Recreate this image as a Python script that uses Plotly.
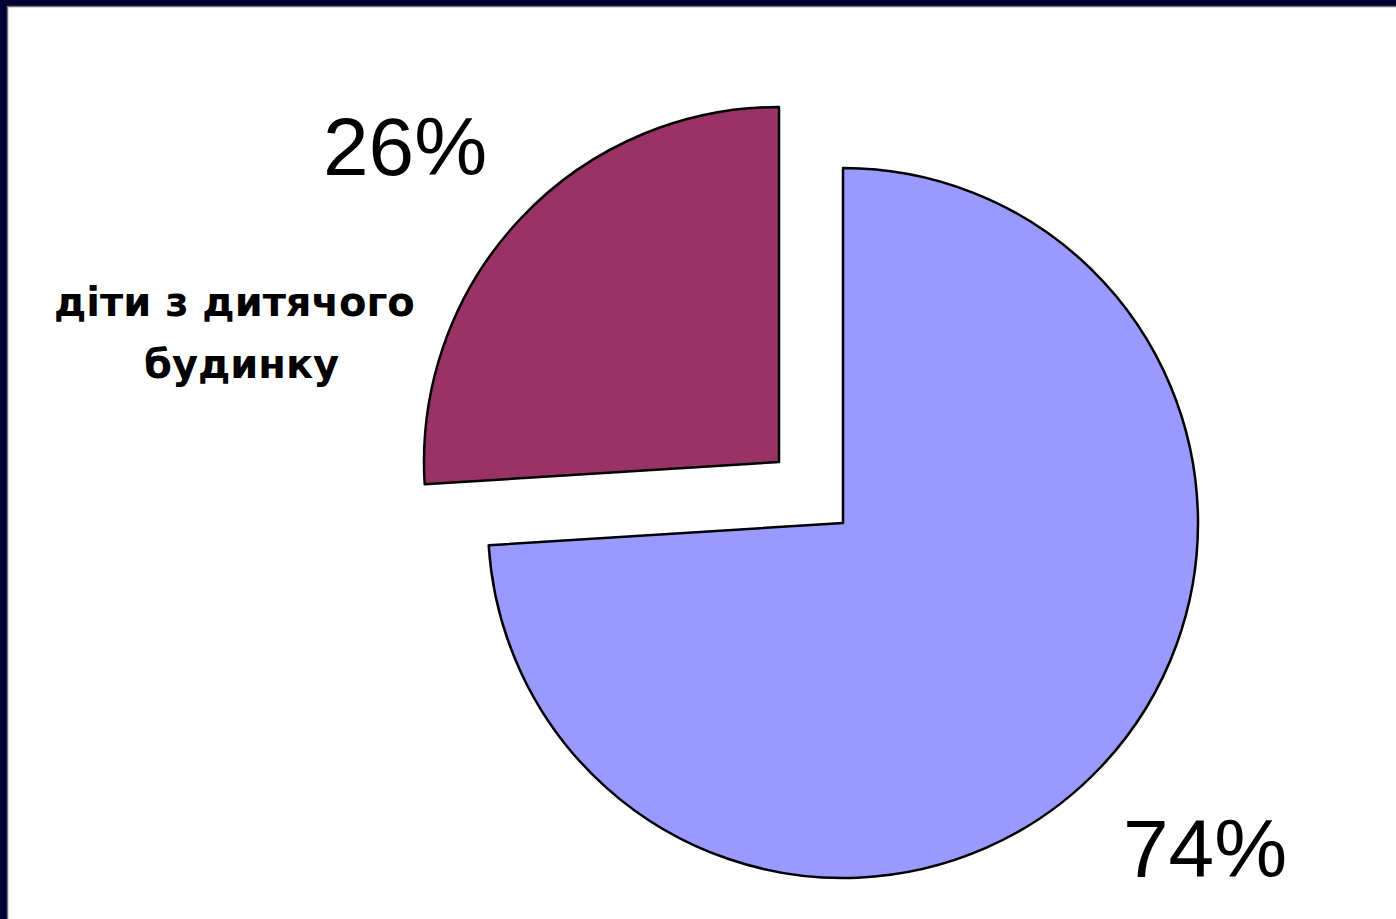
import plotly.graph_objects as go

# Share of children by group, percent
categories = ["інші діти", "діти з дитячого будинку"]
shares = [74, 26]

slice_colors = ["#9999FF", "#993366"]
W, H = 1396, 919
R = 355                                   # pie radius, px
vertex_px = [(843, 523), (779, 462)]      # where each slice's tip sits (exploded layout)
value_label_px = [(1205, 848), (405, 147)]
category_line_px = [(234, 302), (242, 364)]  # centre of each line of the category label

fig = go.Figure()

# one trace per slice so the small slice can be exploded away from the big one
for i, (cx, cy) in enumerate(vertex_px):
    fig.add_trace(go.Pie(
        labels=categories,
        values=shares,
        sort=False,
        direction="clockwise",
        rotation=0,
        textinfo="none",
        hoverinfo="skip",
        showlegend=False,
        marker=dict(
            colors=[c if j == i else "rgba(0,0,0,0)" for j, c in enumerate(slice_colors)],
            line=dict(color="#000000",
                      width=[2.5 if j == i else 0 for j in range(len(shares))]),
        ),
        domain=dict(
            x=[(cx - R) / W, (cx + R) / W],
            y=[1 - (cy + R) / H, 1 - (cy - R) / H],
        ),
    ))

annotations = []
for v, (x, y) in zip(shares, value_label_px):
    annotations.append(dict(
        text=f"{v}%", x=x / W, y=1 - y / H, xref="paper", yref="paper",
        showarrow=False, xanchor="center", yanchor="middle",
        font=dict(family="Liberation Sans, Arial, sans-serif", size=82, color="#000000"),
    ))

# category name of the exploded slice, wrapped onto two lines
for line, (x, y) in zip(categories[1].rsplit(" ", 1), category_line_px):
    annotations.append(dict(
        text=line, x=x / W, y=1 - y / H,
        xref="paper", yref="paper", showarrow=False, xanchor="center", yanchor="middle",
        font=dict(family="DejaVu Sans, Verdana, sans-serif", size=40, color="#000000",
                  weight="bold"),
    ))

# dark frame along the top and left edges
navy = "#000033"
shapes = [
    dict(type="rect", xref="paper", yref="paper", x0=0, x1=1, y0=1 - 6 / H, y1=1,
         fillcolor=navy, line=dict(width=0), layer="above"),
    dict(type="rect", xref="paper", yref="paper", x0=0, x1=7 / W, y0=0, y1=1,
         fillcolor=navy, line=dict(width=0), layer="above"),
    dict(type="line", xref="paper", yref="paper", x0=7.5 / W, x1=1, y0=1 - 6.5 / H, y1=1 - 6.5 / H,
         line=dict(color="#707070", width=1.5), layer="above"),
    dict(type="line", xref="paper", yref="paper", x0=7.5 / W, x1=7.5 / W, y0=0, y1=1 - 6.5 / H,
         line=dict(color="#707070", width=1.5), layer="above"),
]

fig.update_layout(
    width=W, height=H,
    margin=dict(l=0, r=0, t=0, b=0),
    paper_bgcolor="#FFFFFF",
    plot_bgcolor="#FFFFFF",
    hovermode=False,
    annotations=annotations,
    shapes=shapes,
)

fig.write_html("out.html")
